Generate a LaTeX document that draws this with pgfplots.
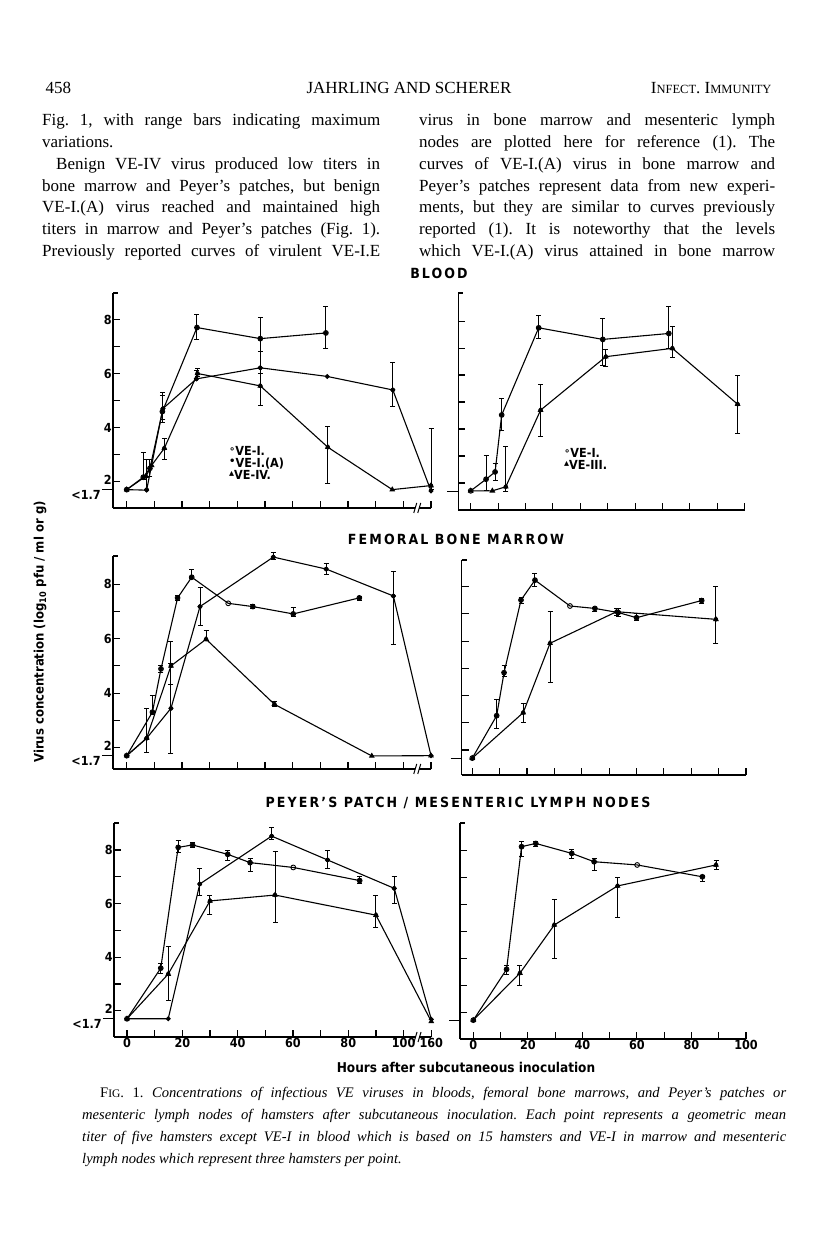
\documentclass[border=0pt]{standalone}
\usepackage{fontspec}
\setmainfont{Liberation Serif}
\newfontfamily\cf{DejaVu Sans Condensed}
\newfontfamily\symf{DejaVu Sans}
\usepackage{pgfplots}
\pgfplotsset{compat=1.18}
\frenchspacing

\pgfplotsset{
  panel/.style={
    scale only axis, axis lines*=left, anchor=south west, clip=false,
    axis line style={line width=1.4pt},
    every tick/.style={black, line width=1.1pt},
    tick align=inside, major tick length=7pt,
    xtick={0,10,...,100}, ytick={2,...,8},
    xticklabels={}, yticklabels={},
    extra y ticks={1.7}, extra y tick labels={},
    extra y tick style={tick align=outside, major tick length=11pt},
    tick label style={font=\cf\bfseries\fontsize{12.5}{13}\selectfont, inner sep=1pt},
    /pgf/number format/assume math mode=true,
  },
  leftp/.style={panel, xtick={0,10,...,100,110}, xmax=110,
    yticklabels={\raisebox{4pt}{2},,4,,6,,8},
    extra y tick labels={<1.7},
    extra y tick style={tick align=outside, major tick length=11pt,
      yticklabel style={yshift=-5pt}}},
  rightp/.style={panel, xmax=100},
  ve1/.style={black, line width=1.1pt, mark=o, mark size=2.4pt,
    mark options={fill=white, line width=0.9pt}},
  vea/.style={black, line width=1.1pt, mark=*, mark size=1.9pt},
  ve4/.style={black, line width=1.1pt, mark=triangle*, mark size=2.3pt},
  bars/.style={only marks, mark=none, black, forget plot,
    error bars/.cd, y dir=both, y explicit,
    error bar style={line width=1pt},
    error mark options={rotate=90, mark size=2.5pt, line width=1pt, black}},
}

% axis break on the 100-160 h gap and serif at the top of the y axis
\newcommand{\brk}{%
  \fill[white] (axis cs:104.3,\pgfkeysvalueof{/pgfplots/ymin}) ++(0pt,-1.5pt) rectangle ++(4pt,3pt);
  \draw[line width=1pt] (axis cs:104.3,\pgfkeysvalueof{/pgfplots/ymin}) ++(-1.5pt,-5pt) -- ++(3pt,10pt);
  \draw[line width=1pt] (axis cs:104.3,\pgfkeysvalueof{/pgfplots/ymin}) ++(2.5pt,-5pt) -- ++(3pt,10pt);}
\newcommand{\serif}{\draw[line width=1.2pt] (rel axis cs:0,1) -- ++(5pt,0pt);}

\begin{document}
\begin{tikzpicture}[x=1pt,y=1pt]
\path[use as bounding box] (0pt,0pt) rectangle (816pt,1248pt);

% ---------- page text ----------
\node[anchor=base west, font=\fontsize{17}{20}\selectfont] at (42pt,1154pt) {458};
\node[anchor=base, font=\fontsize{17}{20}\selectfont] at (409pt,1154pt) {JAHRLING AND SCHERER};
\node[anchor=base east, font=\fontsize{17}{20}\selectfont] at (775pt,1154pt)
  {I{\fontsize{12.5}{14}\selectfont NFECT}. I{\fontsize{12.5}{14}\selectfont MMUNITY}};

\node[anchor=base west, inner sep=0pt] at (42pt,1122pt) {\parbox[t]{338pt}{%
  \fontsize{17}{21.7}\selectfont\noindent
  Fig. 1, with range bars indicating maximum\linebreak
  variations.\par
  \hspace*{14pt}Benign VE-IV virus produced low titers in\linebreak
  bone marrow and Peyer's patches, but benign\linebreak
  VE-I.(A) virus reached and maintained high\linebreak
  titers in marrow and Peyer's patches (Fig. 1).\linebreak
  {\parfillskip=0pt Previously reported curves of virulent VE-I.E\par}}};

\node[anchor=base west, inner sep=0pt] at (419pt,1122pt) {\parbox[t]{356pt}{%
  \fontsize{17}{21.7}\selectfont\noindent
  virus in bone marrow and mesenteric lymph\linebreak
  nodes are plotted here for reference (1). The\linebreak
  curves of VE-I.(A) virus in bone marrow and\linebreak
  Peyer's patches represent data from new experi-\linebreak
  ments, but they are similar to curves previously\linebreak
  reported (1). It is noteworthy that the levels\linebreak
  {\parfillskip=0pt which VE-I.(A) virus attained in bone marrow\par}}};

\node[anchor=base west, inner sep=0pt] at (82pt,150pt) {\parbox[t]{704pt}{%
  \fontsize{14.6}{22}\selectfont\noindent\hspace*{18pt}F{\fontsize{11.5}{14}\selectfont IG}. 1.
  \itshape Concentrations of infectious VE viruses in bloods, femoral bone marrows, and Peyer's patches or\linebreak
  mesenteric lymph nodes of hamsters after subcutaneous inoculation. Each point represents a geometric mean\linebreak
  titer of five hamsters except VE-I in blood which is based on 15 hamsters and VE-I in marrow and mesenteric\linebreak
  lymph nodes which represent three hamsters per point.}};

% ---------- chart text ----------
\node[font=\cf\bfseries\fontsize{14}{14}\selectfont\addfontfeature{LetterSpace=15}] at (439pt,975pt) {BLOOD};
\node[font=\cf\bfseries\fontsize{14}{14}\selectfont\addfontfeature{LetterSpace=15}] at (456pt,709pt) {FEMORAL BONE MARROW};
\node[font=\cf\bfseries\fontsize{14}{14}\selectfont\addfontfeature{LetterSpace=15}] at (458pt,445pt) {PEYER’S PATCH / MESENTERIC LYMPH NODES};
\node[rotate=90, font=\cf\bfseries\fontsize{13}{13}\selectfont] at (40pt,616pt) {Virus concentration (log\textsubscript{10} pfu / ml or g)};
\node[font=\cf\bfseries\fontsize{13.5}{14}\selectfont] at (466pt,181pt) {Hours after subcutaneous inoculation};

\begin{scope}[every node/.style={anchor=base west, inner sep=0pt, font=\cf\bfseries\fontsize{12.5}{13}\selectfont}]
\node at (229pt,792pt) {{\symf\fontsize{10}{10}\selectfont\raisebox{3pt}{∘}}VE-I.};
\node at (229pt,780pt) {{\symf\fontsize{10}{10}\selectfont\raisebox{3pt}{•}}VE-I.(A)};
\node at (229pt,768pt) {{\symf\fontsize{10}{10}\selectfont\raisebox{3pt}{▴}}VE-IV.};
\node at (564pt,790pt) {{\symf\fontsize{10}{10}\selectfont\raisebox{3pt}{∘}}VE-I.};
\node at (564pt,778pt) {{\symf\fontsize{10}{10}\selectfont\raisebox{3pt}{▴}}VE-III.};
\end{scope}

% ---------- BLOOD, left ----------
\begin{axis}[leftp, at={(113pt,740pt)}, width=318pt, height=215pt,
  xmin=-4.95, ymin=1.02, ymax=8.98]
\addplot[ve1] coordinates {(0,1.7) (6,2.16) (8.4,2.49) (12.9,4.59) (25.4,7.7) (48.3,7.29) (72,7.5)};
\addplot[vea] coordinates {(0,1.7) (7.2,1.68) (13.1,4.7) (25.2,5.8) (48.3,6.21) (72.5,5.89) (96.2,5.39) (110,1.65)};
\addplot[ve4] coordinates {(0,1.7) (7,2.2) (9,2.6) (13.6,3.23) (25.6,6.0) (48.3,5.54) (72.7,3.27) (96,1.7) (110,1.85)};
\addplot[bars] coordinates {(6,2.16) += (0,0.9) -= (0,0.1) (8.4,2.49) += (0,0.31) -= (0,0.29)
  (12.9,4.59) += (0,0.61) -= (0,0.39) (25.4,7.7) += (0,0.49) -= (0,0.44)
  (48.3,7.29) += (0,0.78) -= (0,1.29) (72,7.5) += (0,0.97) -= (0,0.57)};
\addplot[bars] coordinates {(7.2,1.7) += (0,1.1) -= (0,0) (13.1,4.7) += (0,0.6) -= (0,0.4)
  (25.2,5.8) += (0,0.3) -= (0,0) (48.3,6.21) += (0,0.6) -= (0,0.21) (96.2,5.39) += (0,1.0) -= (0,0.6)};
\addplot[bars] coordinates {(13.6,3.23) += (0,0.37) -= (0,0.43) (25.6,6.0) += (0,0.2) -= (0,0.1)
  (48.3,5.54) += (0,0.46) -= (0,0.71) (72.7,3.27) += (0,0.76) -= (0,1.36) (110,1.85) += (0,2.1) -= (0,0.15)};
\brk \serif
\end{axis}

% ---------- BLOOD, right ----------
\begin{axis}[rightp, at={(458.3pt,738pt)}, width=286.4pt, height=217pt,
  xmin=-4.53, ymin=1.0, ymax=9.04]
\addplot[ve1] coordinates {(0,1.71) (5.6,2.14) (8.9,2.41) (11.3,4.52) (24.8,7.75) (48.2,7.32) (72.3,7.54)};
\addplot[ve4] coordinates {(0,1.71) (7.9,1.71) (12.8,1.86) (25.5,4.70) (49.3,6.68) (73.6,6.99) (97.4,4.92)};
\addplot[bars] coordinates {(5.6,2.14) += (0,0.89) -= (0,0.4) (8.9,2.41) += (0,0.32) -= (0,0.3)
  (11.3,4.52) += (0,0.61) -= (0,0.56) (24.8,7.75) += (0,0.47) -= (0,0.39)
  (48.2,7.32) += (0,0.78) -= (0,0.95) (72.3,7.54) += (0,0.99) -= (0,0.55)};
\addplot[bars] coordinates {(12.8,1.86) += (0,1.48) -= (0,0.19) (25.5,4.7) += (0,0.96) -= (0,0.99)
  (49.3,6.68) += (0,0.27) -= (0,0.37) (73.6,6.99) += (0,0.8) -= (0,0.35) (97.4,4.92) += (0,1.08) -= (0,1.08)};
\serif
\end{axis}

% ---------- MARROW, left ----------
\begin{axis}[leftp, at={(113pt,479pt)}, width=318pt, height=213pt,
  xmin=-4.95, ymin=1.21, ymax=9.04]
\addplot[ve1] coordinates {(0,1.7) (9.3,3.3) (12.4,4.89) (18.4,7.5) (23.5,8.26) (36.7,7.3) (45.6,7.18) (60.2,6.91) (84.1,7.5)};
\addplot[vea] coordinates {(0,1.7) (7.2,2.34) (16,3.44) (26.5,7.18) (53,9.0) (72.1,8.56) (96.4,7.57) (110,1.7)};
\addplot[ve4] coordinates {(0,1.7) (7.2,2.34) (16,5.0) (28.7,5.98) (53.4,3.59) (88.6,1.69) (110,1.7)};
\addplot[bars] coordinates {(9.3,3.3) += (0,0.6) -= (0,0.1) (12.4,4.89) += (0,0.11) -= (0,0.14)
  (18.4,7.5) += (0,0.1) -= (0,0.1) (23.5,8.26) += (0,0.29) -= (0,0.06) (45.6,7.18) += (0,0.07) -= (0,0.08)
  (60.2,6.91) += (0,0.22) -= (0,0.11) (84.1,7.5) += (0,0.05) -= (0,0.1)};
\addplot[bars] coordinates {(7.2,2.34) += (0,1.08) -= (0,0.53) (16,3.44) += (0,2.46) -= (0,1.65)
  (26.5,7.18) += (0,0.72) -= (0,0.68) (53,9.0) += (0,0.15) -= (0,0.1) (72.1,8.56) += (0,0.19) -= (0,0.21)
  (96.4,7.57) += (0,0.89) -= (0,1.8)};
\addplot[bars] coordinates {(16,5.0) += (0,0.1) -= (0,0.7) (28.7,5.98) += (0,0.32) -= (0,0.03)
  (53.4,3.59) += (0,0.11) -= (0,0.09)};
\brk \serif
\end{axis}

% ---------- MARROW, right ----------
\begin{axis}[rightp, at={(461.7pt,473pt)}, width=284.3pt, height=215pt,
  xmin=-3.87, ymin=1.08, ymax=8.98]
\addplot[ve1] coordinates {(0,1.7) (8.9,3.26) (11.6,4.84) (17.8,7.51) (22.9,8.24) (35.7,7.29) (44.8,7.2) (53.3,7.05) (60,6.86) (83.8,7.49)};
\addplot[ve4] coordinates {(0,1.7) (18.6,3.37) (28.4,5.92) (52.7,7.08) (89,6.8)};
\addplot[bars] coordinates {(8.9,3.26) += (0,0.58) -= (0,0.46) (11.6,4.84) += (0,0.26) -= (0,0.14)
  (17.8,7.51) += (0,0.09) -= (0,0.11) (22.9,8.24) += (0,0.26) -= (0,0.24) (44.8,7.2) += (0,0.05) -= (0,0.1)
  (53.3,7.05) += (0,0.15) -= (0,0.15) (60,6.86) += (0,0.14) -= (0,0.11) (83.8,7.49) += (0,0.06) -= (0,0.09)};
\addplot[bars] coordinates {(18.6,3.37) += (0,0.33) -= (0,0.37) (28.4,5.92) += (0,1.16) -= (0,1.45)
  (52.7,7.08) += (0,0.12) -= (0,0.13) (89,6.8) += (0,1.2) -= (0,0.9)};
\serif
\end{axis}

% ---------- PEYER'S PATCH, left ----------
\begin{axis}[leftp, at={(114pt,211pt)}, width=317.3pt, height=214pt,
  xmin=-4.7, ymin=1.02, ymax=9.01,
  xticklabels={0,,20,,40,,60,,80,,100,160}]
\addplot[ve1] coordinates {(0,1.7) (12.2,3.59) (18.5,8.1) (23.7,8.19) (36.4,7.84) (44.5,7.53) (60.1,7.35) (84.1,6.86)};
\addplot[vea] coordinates {(0,1.7) (14.9,1.7) (26.3,6.73) (52.3,8.52) (72.5,7.63) (96.6,6.57) (110,1.68)};
\addplot[ve4] coordinates {(0,1.7) (14.9,3.37) (30,6.1) (53.5,6.32) (90,5.57) (110,1.6)};
\addplot[bars] coordinates {(12.2,3.59) += (0,0.16) -= (0,0.19) (18.5,8.1) += (0,0.25) -= (0,0.2)
  (23.7,8.19) += (0,0.11) -= (0,0.09) (36.4,7.84) += (0,0.16) -= (0,0.24) (44.5,7.53) += (0,0.17) -= (0,0.33)
  (84.1,6.86) += (0,0.14) -= (0,0.11)};
\addplot[bars] coordinates {(26.3,6.73) += (0,0.57) -= (0,0.43) (52.3,8.52) += (0,0.33) -= (0,0.12)
  (72.5,7.63) += (0,0.37) -= (0,0.33) (96.6,6.57) += (0,0.43) -= (0,0.57)};
\addplot[bars] coordinates {(14.9,3.37) += (0,1.03) -= (0,0.97) (30,6.1) += (0,0.2) -= (0,0.5)
  (53.5,6.32) += (0,1.63) -= (0,1.02) (90,5.57) += (0,0.73) -= (0,0.47)};
\brk \serif
\end{axis}

% ---------- PEYER'S PATCH / MESENTERIC LYMPH NODES, right ----------
\begin{axis}[rightp, at={(460pt,209pt)}, width=286pt, height=216pt,
  xmin=-4.88, ymin=1.0, ymax=9.03,
  xticklabels={0,,20,,40,,60,,80,,100}]
\addplot[ve1] coordinates {(0,1.7) (12.2,3.59) (17.7,8.15) (22.9,8.27) (36.1,7.9) (44.3,7.59) (60.1,7.47) (84,7.03)};
\addplot[ve4] coordinates {(0,1.7) (17.1,3.45) (29.7,5.24) (52.9,6.69) (89,7.47)};
\addplot[bars] coordinates {(12.2,3.59) += (0,0.16) -= (0,0.19) (17.7,8.15) += (0,0.2) -= (0,0.35)
  (22.9,8.27) += (0,0.08) -= (0,0.12) (36.1,7.9) += (0,0.15) -= (0,0.2) (44.3,7.59) += (0,0.11) -= (0,0.34)
  (84,7.03) += (0,0.05) -= (0,0.18)};
\addplot[bars] coordinates {(17.1,3.45) += (0,0.3) -= (0,0.45) (29.7,5.24) += (0,0.96) -= (0,1.24)
  (52.9,6.69) += (0,0.31) -= (0,1.19) (89,7.47) += (0,0.18) -= (0,0.17)};
\serif
\end{axis}
\end{tikzpicture}
\end{document}
